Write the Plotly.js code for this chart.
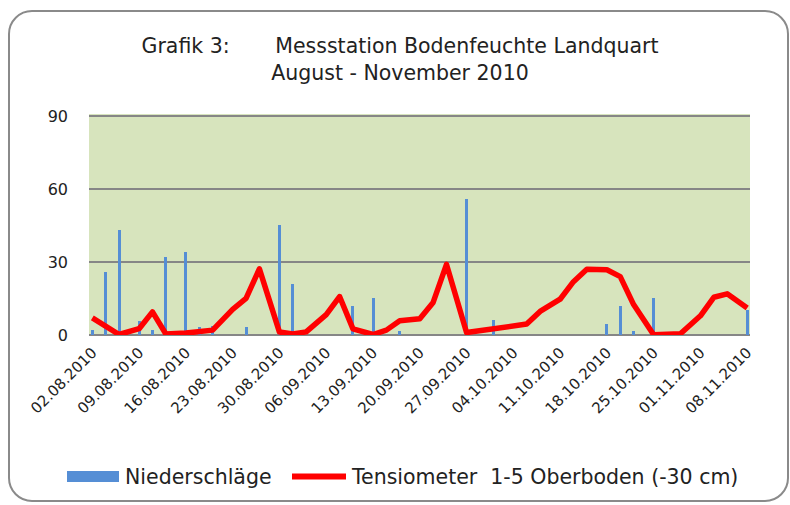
<!DOCTYPE html>
<html><head><meta charset="utf-8">
<script src="https://cdn.plot.ly/plotly-3.0.1.min.js"></script>
<style>
html,body{margin:0;padding:0;background:#fff;overflow:hidden;}
#wrap{position:relative;width:790px;height:505px;}
#chart{width:790px;height:505px;}
#frame{position:absolute;left:8px;top:10px;width:781px;height:492px;border:2px solid #8a8a8a;border-radius:24px;pointer-events:none;box-sizing:border-box;}
path.js-line{stroke-linejoin:round;}
</style></head><body>
<div id="wrap"><div id="chart"></div><div id="frame"></div></div>
<script>
// Niederschläge (daily precipitation)
var rainDates = ['2010-08-02','2010-08-04','2010-08-06','2010-08-09','2010-08-11','2010-08-13','2010-08-16','2010-08-18','2010-08-20','2010-08-25','2010-08-30','2010-09-01','2010-09-10','2010-09-13','2010-09-17','2010-09-27','2010-10-01','2010-10-18','2010-10-20','2010-10-22','2010-10-25','2010-11-08'];
var rainValues = [2.2,26,43,5.6,2.2,32,34,3.1,3.5,3.2,45,21,12,15,1.8,56,6.2,4.6,12,1.8,15,10.3];

// Tensiometer 1-5 Oberboden (-30 cm)
var tensDates = ['2010-08-02','2010-08-06','2010-08-09','2010-08-11','2010-08-13','2010-08-16','2010-08-20','2010-08-23','2010-08-25','2010-08-27','2010-08-30','2010-09-01','2010-09-03','2010-09-06','2010-09-08','2010-09-10','2010-09-13','2010-09-15','2010-09-17','2010-09-20','2010-09-22','2010-09-24','2010-09-27','2010-10-01','2010-10-04','2010-10-06','2010-10-08','2010-10-11','2010-10-13','2010-10-15','2010-10-18','2010-10-20','2010-10-22','2010-10-25','2010-10-29','2010-11-01','2010-11-03','2010-11-05','2010-11-08'];
var tensValues = [7.0,0.2,2.6,9.5,0.4,0.8,2.0,10.5,15,27.2,1.2,0.4,1.3,8.4,15.8,2.5,0.2,2.0,5.9,6.7,13.4,29,1.0,2.7,4.2,4.5,9.7,14.7,21.9,27,26.8,24,12.5,0.1,0.5,7.9,15.5,16.9,11.1];

var yTicks = [0,30,60,90];
var seriesNames = ['Niederschläge','Tensiometer  1-5 Oberboden (-30 cm)'];
var titleLine1 = 'Grafik 3:\u00a0\u00a0\u00a0\u00a0\u00a0\u00a0\u00a0Messstation Bodenfeuchte Landquart';
var titleLine2 = 'August - November 2010';

var FONT = 'DejaVu Sans, sans-serif';
var DAY = 86400000;

var traces = [
  {type:'bar', x:rainDates, y:rainValues, name:seriesNames[0], width:0.45*DAY,
   marker:{color:'#558ED5'}, showlegend:false, hoverinfo:'x+y'},
  {type:'scatter', mode:'lines', x:tensDates, y:tensValues, name:seriesNames[1],
   line:{color:'#FF0000', width:5.5}, showlegend:false}
];

// plot area geometry (px) used for custom legend placement
var L=89, R=40, T=114, B=170, W=790-L-R, H=505-T-B;
function px(x){return (x-L)/W;}
function py(y){return (505-B-y)/H;}

var layout = {
  width:790, height:505,
  margin:{l:L, r:R, t:T, b:B, pad:0},
  paper_bgcolor:'rgba(0,0,0,0)',
  plot_bgcolor:'#D7E4BD',
  font:{family:FONT, color:'#222'},
  title:{text:titleLine1+'<br>'+titleLine2, x:px(400), xanchor:'center', xref:'paper',
         y:1-53/505, yref:'container', yanchor:'middle', font:{size:20.5, family:FONT, color:'#222'}},
  bargap:0,
  xaxis:{type:'date', range:['2010-08-01 12:00','2010-11-08 10:00'],
         tick0:'2010-08-02', dtick:7*DAY, tickformat:'%d.%m.%Y', tickangle:-45,
         tickfont:{size:15, family:FONT, color:'#222'}, showgrid:false, showline:false, zeroline:false,
         ticks:'', ticklabelstandoff:5, fixedrange:true},
  yaxis:{range:[0,90.8], tickvals:yTicks, ticktext:yTicks.map(String),
         tickfont:{size:16, family:FONT, color:'#222'}, showgrid:true, gridcolor:'#868686', gridwidth:2,
         zeroline:true, zerolinecolor:'#868686', zerolinewidth:2, showline:false, ticks:'',
         ticklabelstandoff:20, fixedrange:true},
  shapes:[
    {type:'rect', xref:'paper', yref:'paper', x0:px(67), x1:px(119), y0:py(482), y1:py(471),
     fillcolor:'#558ED5', line:{width:0}},
    {type:'line', xref:'paper', yref:'paper', x0:px(292), x1:px(346), y0:py(476.5), y1:py(476.5),
     line:{color:'#FF0000', width:6}}
  ],
  annotations:[
    {xref:'paper', yref:'paper', x:px(123), y:py(476.5), xanchor:'left', yanchor:'middle', showarrow:false,
     text:seriesNames[0], font:{size:20.5, family:FONT, color:'#222'}},
    {xref:'paper', yref:'paper', x:px(349), y:py(476.5), xanchor:'left', yanchor:'middle', showarrow:false,
     text:seriesNames[1].replace('  ','\u00a0\u00a0'), font:{size:20.5, family:FONT, color:'#222'}}
  ]
};

Plotly.newPlot('chart', traces, layout, {displayModeBar:false, staticPlot:true});
</script>
</body></html>
